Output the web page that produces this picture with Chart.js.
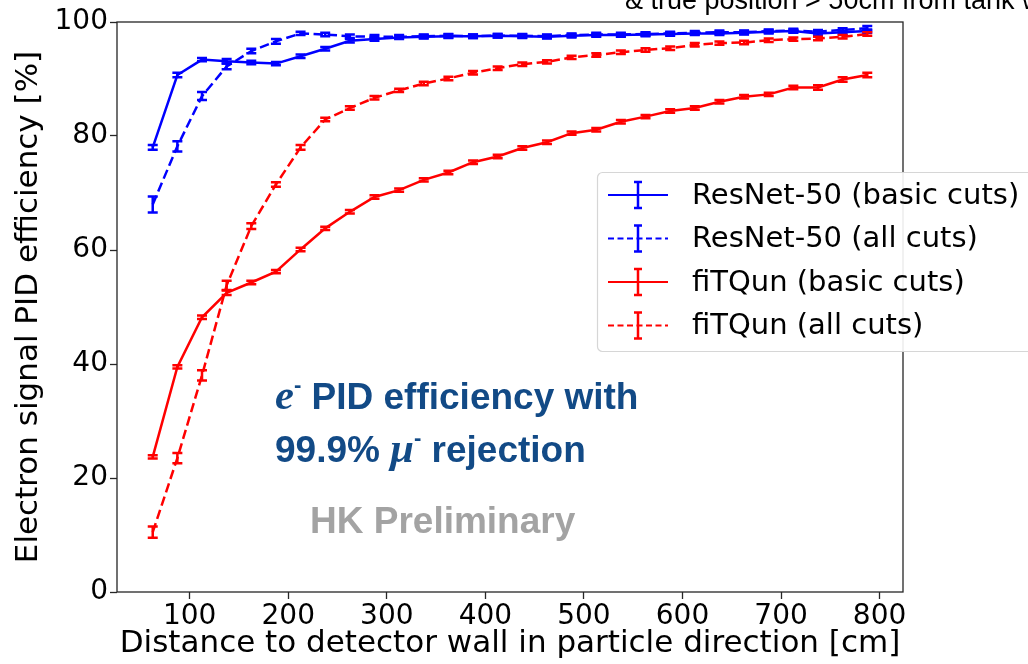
<!DOCTYPE html>
<html>
<head>
<meta charset="utf-8">
<script src="https://cdn.jsdelivr.net/npm/chart.js@4.4.0/dist/chart.umd.min.js"></script>
<style>
  html, body { margin: 0; padding: 0; background: #fff; }
  #wrap { position: relative; width: 1028px; height: 664px; overflow: hidden; }
  #chart { position: absolute; left: 0; top: 0; }
  .note { position: absolute; white-space: nowrap; line-height: 1; }
  .note sup { font-size: 0.6em; vertical-align: 0.75em; line-height: 0; }
  .sym { font-family: "Liberation Serif", serif; font-style: italic; font-weight: bold; font-size: 1.15em; }
  #cutNote { left: 625px; top: -15px; font: 27px "Liberation Sans", Arial, sans-serif; color: #000; }
  #pidLine1, #pidLine2 { font: bold 37px "Liberation Sans", Arial, sans-serif; color: #124a86; }
  #pidLine1 { left: 275px; top: 370px; }
  #pidLine2 { left: 275px; top: 423px; }
  #prelim { left: 310px; top: 500px; font: bold 37px "Liberation Sans", Arial, sans-serif; color: #a3a3a3; }
</style>
</head>
<body>
<div id="wrap">
  <canvas id="chart" width="1028" height="664"></canvas>
  <div class="note" id="cutNote">&amp; true position &gt; 50cm from tank wall</div>
  <div class="note" id="pidLine1"><span class="sym">e</span><sup>-</sup> PID efficiency with</div>
  <div class="note" id="pidLine2">99.9% <span class="sym">μ</span><sup>-</sup> rejection</div>
  <div class="note" id="prelim">HK Preliminary</div>
</div>
<script>
// bin centres [cm], 25 cm bins starting at 50 cm
const distance = [62.5, 87.5, 112.5, 137.5, 162.5, 187.5, 212.5, 237.5, 262.5, 287.5,
                  312.5, 337.5, 362.5, 387.5, 412.5, 437.5, 462.5, 487.5, 512.5, 537.5,
                  562.5, 587.5, 612.5, 637.5, 662.5, 687.5, 712.5, 737.5, 762.5, 787.5];

// efficiencies [%] and their statistical errors
const resnetBasic = [78.0, 90.7, 93.4, 93.1, 92.9, 92.7, 94.0, 95.3, 96.7, 97.0,
                     97.3, 97.4, 97.5, 97.5, 97.6, 97.5, 97.4, 97.6, 97.7, 97.7,
                     97.8, 97.9, 98.0, 98.0, 98.1, 98.3, 98.4, 98.0, 98.2, 98.4];
const resnetBasicErr = [0.4, 0.4, 0.3, 0.4, 0.3, 0.3, 0.3, 0.3, 0.3, 0.3,
                        0.3, 0.3, 0.3, 0.3, 0.3, 0.3, 0.3, 0.3, 0.3, 0.3,
                        0.3, 0.3, 0.3, 0.3, 0.3, 0.3, 0.3, 0.4, 0.3, 0.3];
const resnetAll = [68.0, 78.2, 87.0, 92.2, 94.9, 96.6, 98.0, 97.8, 97.5, 97.4,
                   97.4, 97.5, 97.6, 97.5, 97.6, 97.6, 97.5, 97.7, 97.8, 97.8,
                   97.9, 98.0, 98.1, 98.2, 98.2, 98.4, 98.5, 98.3, 98.6, 98.9];
const resnetAllErr = [1.4, 0.9, 0.7, 0.5, 0.4, 0.4, 0.3, 0.3, 0.3, 0.3,
                      0.3, 0.3, 0.3, 0.3, 0.3, 0.3, 0.3, 0.3, 0.3, 0.3,
                      0.3, 0.3, 0.3, 0.3, 0.3, 0.3, 0.3, 0.3, 0.3, 0.4];
const fitqunBasic = [23.7, 39.5, 48.2, 52.5, 54.3, 56.2, 60.1, 63.8, 66.7, 69.3,
                     70.5, 72.3, 73.6, 75.4, 76.4, 77.9, 78.9, 80.5, 81.1, 82.5,
                     83.4, 84.4, 84.9, 86.0, 86.9, 87.3, 88.5, 88.5, 89.9, 90.7];
const fitqunBasicErr = [0.3, 0.3, 0.3, 0.4, 0.3, 0.3, 0.3, 0.3, 0.3, 0.3,
                        0.3, 0.3, 0.3, 0.3, 0.3, 0.3, 0.3, 0.3, 0.3, 0.3,
                        0.3, 0.3, 0.3, 0.3, 0.3, 0.3, 0.3, 0.4, 0.4, 0.4];
const fitqunAll = [10.5, 23.5, 38.0, 53.8, 64.2, 71.5, 78.0, 82.9, 84.9, 86.7,
                   88.0, 89.2, 90.1, 91.1, 91.9, 92.6, 93.0, 93.8, 94.2, 94.7,
                   95.1, 95.4, 96.0, 96.3, 96.4, 96.8, 97.0, 97.1, 97.4, 97.9];
const fitqunAllErr = [1.0, 0.9, 0.9, 0.8, 0.5, 0.4, 0.4, 0.3, 0.3, 0.3,
                      0.3, 0.3, 0.3, 0.3, 0.3, 0.3, 0.3, 0.3, 0.3, 0.3,
                      0.3, 0.3, 0.3, 0.3, 0.3, 0.3, 0.3, 0.3, 0.3, 0.3];

const seriesLabels = ['ResNet-50 (basic cuts)', 'ResNet-50 (all cuts)', 'fiTQun (basic cuts)', 'fiTQun (all cuts)'];
const xTicks = [100, 200, 300, 400, 500, 600, 700, 800];
const yTicks = [0, 20, 40, 60, 80, 100];

const BLUE = '#0000ff';
const RED = '#ff0000';
const DASH = [9.5, 4.5];
const FONT = 'DejaVu Sans';

function points(ys) {
    return distance.map((d, i) => ({ x: d, y: ys[i] }));
}

function makeSet(label, ys, errs, color, dashed) {
    return {
        label: label,
        data: points(ys),
        errors: errs,
        borderColor: color,
        backgroundColor: color,
        borderWidth: 2.5,
        borderDash: dashed ? DASH : [],
        pointRadius: 0,
        tension: 0,
        fill: false
    };
}

// vertical error bars with caps
const errorBars = {
    id: 'errorBars',
    afterDatasetsDraw(chart) {
        const ctx = chart.ctx;
        const xs = chart.scales.x, ys = chart.scales.y;
        ctx.save();
        chart.data.datasets.forEach(ds => {
            ctx.strokeStyle = ds.borderColor;
            ctx.lineWidth = 2.5;
            ctx.setLineDash([]);
            ds.data.forEach((p, i) => {
                const e = ds.errors[i];
                const px = xs.getPixelForValue(p.x);
                const lo = ys.getPixelForValue(p.y - e);
                const hi = ys.getPixelForValue(p.y + e);
                ctx.beginPath();
                ctx.moveTo(px, lo); ctx.lineTo(px, hi);
                ctx.moveTo(px - 5, lo); ctx.lineTo(px + 5, lo);
                ctx.moveTo(px - 5, hi); ctx.lineTo(px + 5, hi);
                ctx.stroke();
            });
        });
        ctx.restore();
    }
};

// axes frame plus the legend box in the upper right
const frameAndLegend = {
    id: 'frameAndLegend',
    afterDraw(chart) {
        const ctx = chart.ctx;
        const a = chart.chartArea;
        ctx.save();
        ctx.strokeStyle = '#262626';
        ctx.lineWidth = 1.3;
        ctx.strokeRect(a.left, a.top, a.right - a.left, a.bottom - a.top);

        // legend
        const bx = 597.5, by = 172.5, bw = 470, bh = 179;
        ctx.beginPath();
        ctx.roundRect(bx, by, bw, bh, 5);
        ctx.fillStyle = 'rgba(255,255,255,0.9)';
        ctx.fill();
        ctx.strokeStyle = '#d6d6d6';
        ctx.lineWidth = 1.2;
        ctx.stroke();

        ctx.font = '29px "' + FONT + '"';
        ctx.textBaseline = 'middle';
        ctx.fillStyle = '#000';
        chart.data.datasets.forEach((ds, i) => {
            const y = 195 + i * 43.5;
            ctx.strokeStyle = ds.borderColor;
            ctx.lineWidth = 2.2;
            ctx.setLineDash(ds.borderDash.length ? [6, 3.5] : []);
            ctx.beginPath();
            ctx.moveTo(608, y); ctx.lineTo(668, y);
            ctx.stroke();
            ctx.setLineDash([]);
            ctx.lineWidth = 2.5;
            ctx.beginPath();
            ctx.moveTo(638, y - 13); ctx.lineTo(638, y + 13);
            ctx.moveTo(634, y - 13); ctx.lineTo(642, y - 13);
            ctx.moveTo(634, y + 13); ctx.lineTo(642, y + 13);
            ctx.stroke();
            ctx.fillText(ds.label, 692, y + 1);
        });
        ctx.restore();
    }
};

new Chart(document.getElementById('chart'), {
    type: 'line',
    data: {
        datasets: [
            makeSet(seriesLabels[0], resnetBasic, resnetBasicErr, BLUE, false),
            makeSet(seriesLabels[1], resnetAll, resnetAllErr, BLUE, true),
            makeSet(seriesLabels[2], fitqunBasic, fitqunBasicErr, RED, false),
            makeSet(seriesLabels[3], fitqunAll, fitqunAllErr, RED, true)
        ]
    },
    options: {
        responsive: false,
        animation: false,
        layout: { padding: { top: 22, right: 125, left: 0, bottom: 0 } },
        plugins: { legend: { display: false }, tooltip: { enabled: false } },
        scales: {
            x: {
                type: 'linear',
                min: 26.25,
                max: 823.75,
                afterBuildTicks: s => { s.ticks = xTicks.map(v => ({ value: v })); },
                afterFit: s => { s.height = 72; },
                border: { display: false },
                grid: { drawOnChartArea: false, tickLength: 7, color: '#262626', tickWidth: 1.3 },
                ticks: { color: '#000', font: { family: FONT, size: 28 }, padding: 1, maxRotation: 0 },
                title: { display: true, text: 'Distance to detector wall in particle direction [cm]',
                         color: '#000', font: { family: FONT, size: 31 }, padding: { top: 0, bottom: 1 } }
            },
            y: {
                min: 0,
                max: 100,
                afterBuildTicks: s => { s.ticks = yTicks.map(v => ({ value: v })); },
                afterFit: s => { s.width = 117; },
                border: { display: false },
                grid: { drawOnChartArea: false, tickLength: 7, color: '#262626', tickWidth: 1.3 },
                ticks: { color: '#000', font: { family: FONT, size: 28 }, padding: 2 },
                title: { display: true, text: 'Electron signal PID efficiency [%]',
                         color: '#000', font: { family: FONT, size: 31 }, padding: { top: 10, bottom: 0 } }
            }
        }
    },
    plugins: [errorBars, frameAndLegend]
});
</script>
</body>
</html>
